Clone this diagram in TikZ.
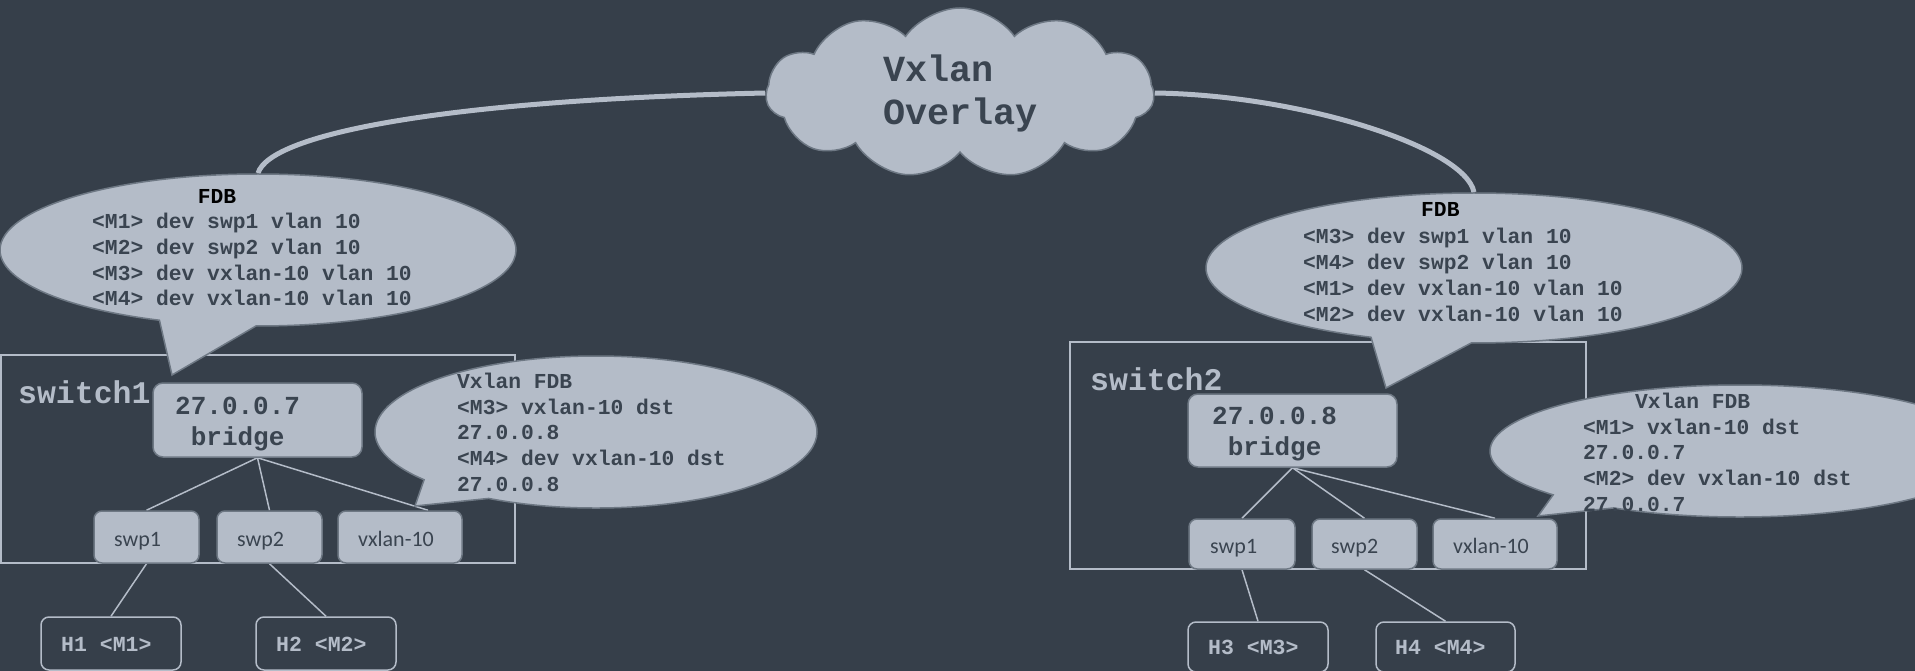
\documentclass[tikz,border=0pt]{standalone}
\usepackage{fontspec}
\setmonofont{Liberation Mono}
\newfontfamily\handfont{Carlito}
\usetikzlibrary{shapes.callouts,shapes.symbols,calc}

\definecolor{bgc}{HTML}{363F4A}
\definecolor{fillc}{HTML}{B4BCC8}
\definecolor{edgec}{HTML}{6E7884}
\definecolor{inkc}{HTML}{3A4450}

\pgfdeclarelayer{back}
\pgfsetlayers{back,main}

\begin{document}
\begin{tikzpicture}[x=1pt,y=-1pt,
  panel/.style={draw=fillc, line width=1.5pt, inner sep=0pt},
  dev/.style={draw=edgec, fill=fillc, line width=1.5pt, rounded corners=10pt, inner sep=0pt},
  port/.style={draw=edgec, fill=fillc, line width=1.5pt, rounded corners=8pt, inner sep=0pt},
  host/.style={draw=fillc, line width=1.5pt, rounded corners=8pt, inner sep=0pt},
  bubble/.style={ellipse callout, draw=edgec, fill=fillc, line width=1.5pt, inner sep=0pt, callout pointer arc=22},
  link/.style={draw=fillc, line width=1.5pt},
  trunk/.style={draw=fillc, line width=5pt},
  tbl/.style={font=\ttfamily\bfseries\fontsize{21.3}{25.8}\selectfont, text=inkc, inner sep=0pt, anchor=base west},
  devtxt/.style={font=\ttfamily\bfseries\fontsize{26}{31}\selectfont, text=inkc, inner sep=0pt, anchor=base west},
  swtxt/.style={font=\ttfamily\bfseries\fontsize{31.5}{36}\selectfont, text=fillc, inner sep=0pt, anchor=base west},
  hosttxt/.style={font=\ttfamily\bfseries\fontsize{21.5}{26}\selectfont, text=fillc, inner sep=0pt, anchor=base west},
  porttxt/.style={font=\handfont\fontsize{22}{26}\selectfont, text=inkc, inner sep=0pt, anchor=base west},
  cloudtxt/.style={font=\ttfamily\bfseries\fontsize{36.8}{43}\selectfont, text=inkc, inner sep=0pt, anchor=base west}
]
\useasboundingbox (0,0) rectangle (1915,671);
\begin{pgfonlayer}{back}
  \fill[bgc] (0,0) rectangle (1915,671);
\end{pgfonlayer}

% switch enclosures
\node[panel, minimum width=514pt, minimum height=208pt] (sw1) at (258,459) {};
\node[panel, minimum width=516pt, minimum height=227pt] (sw2) at (1328,455.5) {};

% bridges
\node[dev, minimum width=209pt, minimum height=74pt] (br1) at (257.5,420) {};
\node[dev, minimum width=209pt, minimum height=73pt] (br2) at (1292.5,430.5) {};

% ports
\node[port, minimum width=105pt, minimum height=52pt] (p11) at (146.5,537) {};
\node[port, minimum width=105pt, minimum height=52pt] (p12) at (269.5,537) {};
\node[port, minimum width=124pt, minimum height=52pt] (vx1) at (400,537) {};
\node[port, minimum width=106pt, minimum height=50pt] (p21) at (1242,544) {};
\node[port, minimum width=105pt, minimum height=50pt] (p22) at (1364.5,544) {};
\node[port, minimum width=124pt, minimum height=50pt] (vx2) at (1495,544) {};

% hosts
\node[host, minimum width=140pt, minimum height=53pt] (h1) at (111,643.5) {};
\node[host, minimum width=140pt, minimum height=53pt] (h2) at (326,643.5) {};
\node[host, minimum width=140pt, minimum height=50pt] (h3) at (1258,647) {};
\node[host, minimum width=139pt, minimum height=50pt] (h4) at (1445.5,647) {};

% forwarding tables
\node[bubble, minimum width=516pt, minimum height=152pt, callout absolute pointer={(172,375)}] (fdbL) at (258,250) {};
\node[bubble, minimum width=536pt, minimum height=150pt, callout absolute pointer={(1386,388)}] (fdbR) at (1474,268) {};
\node[bubble, minimum width=442pt, minimum height=152pt, callout absolute pointer={(415,506)}] (vxL) at (596,432) {};
\node[bubble, minimum width=500pt, minimum height=132pt, callout pointer arc=18, callout absolute pointer={(1538,516)}] (vxR) at (1740,451) {};

% overlay cloud
\node[cloud, cloud puffs=11, cloud puff arc=110, aspect=2.2, draw=edgec, fill=fillc, line width=1.5pt,
      minimum width=388pt, minimum height=170pt, inner sep=0pt] (cloud) at (960,93) {};
\node[cloudtxt] (ct1) at (883,82) {Vxlan};
\node[cloudtxt] (ct2) at (883,125) {Overlay};

% labels
\node[swtxt] (s1) at (18,403) {switch1};
\node[swtxt] (s2) at (1090,390) {switch2};
\node[devtxt] (b1a) at (175,414) {27.0.0.7};
\node[devtxt] (b1b) at (190.6,445) {bridge};
\node[devtxt] (b2a) at (1212,424) {27.0.0.8};
\node[devtxt] (b2b) at (1227.6,455) {bridge};
\node[porttxt] (t11) at (114,546) {swp1};
\node[porttxt] (t12) at (237,546) {swp2};
\node[porttxt] (t13) at (358,546) {vxlan-10};
\node[porttxt] (t21) at (1210,553) {swp1};
\node[porttxt] (t22) at (1331,553) {swp2};
\node[porttxt] (t23) at (1453,553) {vxlan-10};
\node[hosttxt] (ht1) at (61,651.5) {H1 <M1>};
\node[hosttxt] (ht2) at (276,651.5) {H2 <M2>};
\node[hosttxt] (ht3) at (1208,654) {H3 <M3>};
\node[hosttxt] (ht4) at (1395,654) {H4 <M4>};

% table contents
\node[tbl, text=black] (fLh) at (197.6,203.5) {FDB};
\foreach \t [count=\i] in {<M1> dev swp1 vlan 10,<M2> dev swp2 vlan 10,<M3> dev vxlan-10 vlan 10,<M4> dev vxlan-10 vlan 10}
  \node[tbl] (fL\i) at (92,{228.5+25.8*(\i-1)}) {\t};
\node[tbl, text=black] (fRh) at (1421,217) {FDB};
\foreach \t [count=\i] in {<M3> dev swp1 vlan 10,<M4> dev swp2 vlan 10,<M1> dev vxlan-10 vlan 10,<M2> dev vxlan-10 vlan 10}
  \node[tbl] (fR\i) at (1303,{243.5+26*(\i-1)}) {\t};
\node[tbl] (vLh) at (457,388) {Vxlan FDB};
\foreach \t [count=\i] in {<M3> vxlan-10 dst,27.0.0.8,<M4> dev vxlan-10 dst,27.0.0.8}
  \node[tbl] (vL\i) at (457,{414+25.7*(\i-1)}) {\t};
\node[tbl] (vRh) at (1635,408) {Vxlan FDB};
\foreach \t [count=\i] in {<M1> vxlan-10 dst,27.0.0.7,<M2> dev vxlan-10 dst,27.0.0.7}
  \node[tbl] (vR\i) at (1583,{434+25.7*(\i-1)}) {\t};

% connectors
\begin{pgfonlayer}{back}
  \draw[trunk] (cloud.west) .. controls ($(cloud.west)+(-317,7)$) and ($(fdbL.north)+(12,-40)$) .. (fdbL.north);
  \draw[trunk] (cloud.east) .. controls ($(cloud.east)+(146,2)$) and ($(fdbR.north)+(-9,-45)$) .. (fdbR.north);
  \draw[link] (br1.south) -- (p11.north);
  \draw[link] (br1.south) -- (p12.north);
  \draw[link] (br1.south) -- ($(vx1.north)+(28,0)$);
  \draw[link] (br2.south) -- (p21.north);
  \draw[link] (br2.south) -- (p22.north);
  \draw[link] (br2.south) -- (vx2.north);
  \draw[link] (p11.south) -- (h1.north);
  \draw[link] (p12.south) -- (h2.north);
  \draw[link] (p21.south) -- (h3.north);
  \draw[link] (p22.south) -- (h4.north);
\end{pgfonlayer}
\end{tikzpicture}
\end{document}
